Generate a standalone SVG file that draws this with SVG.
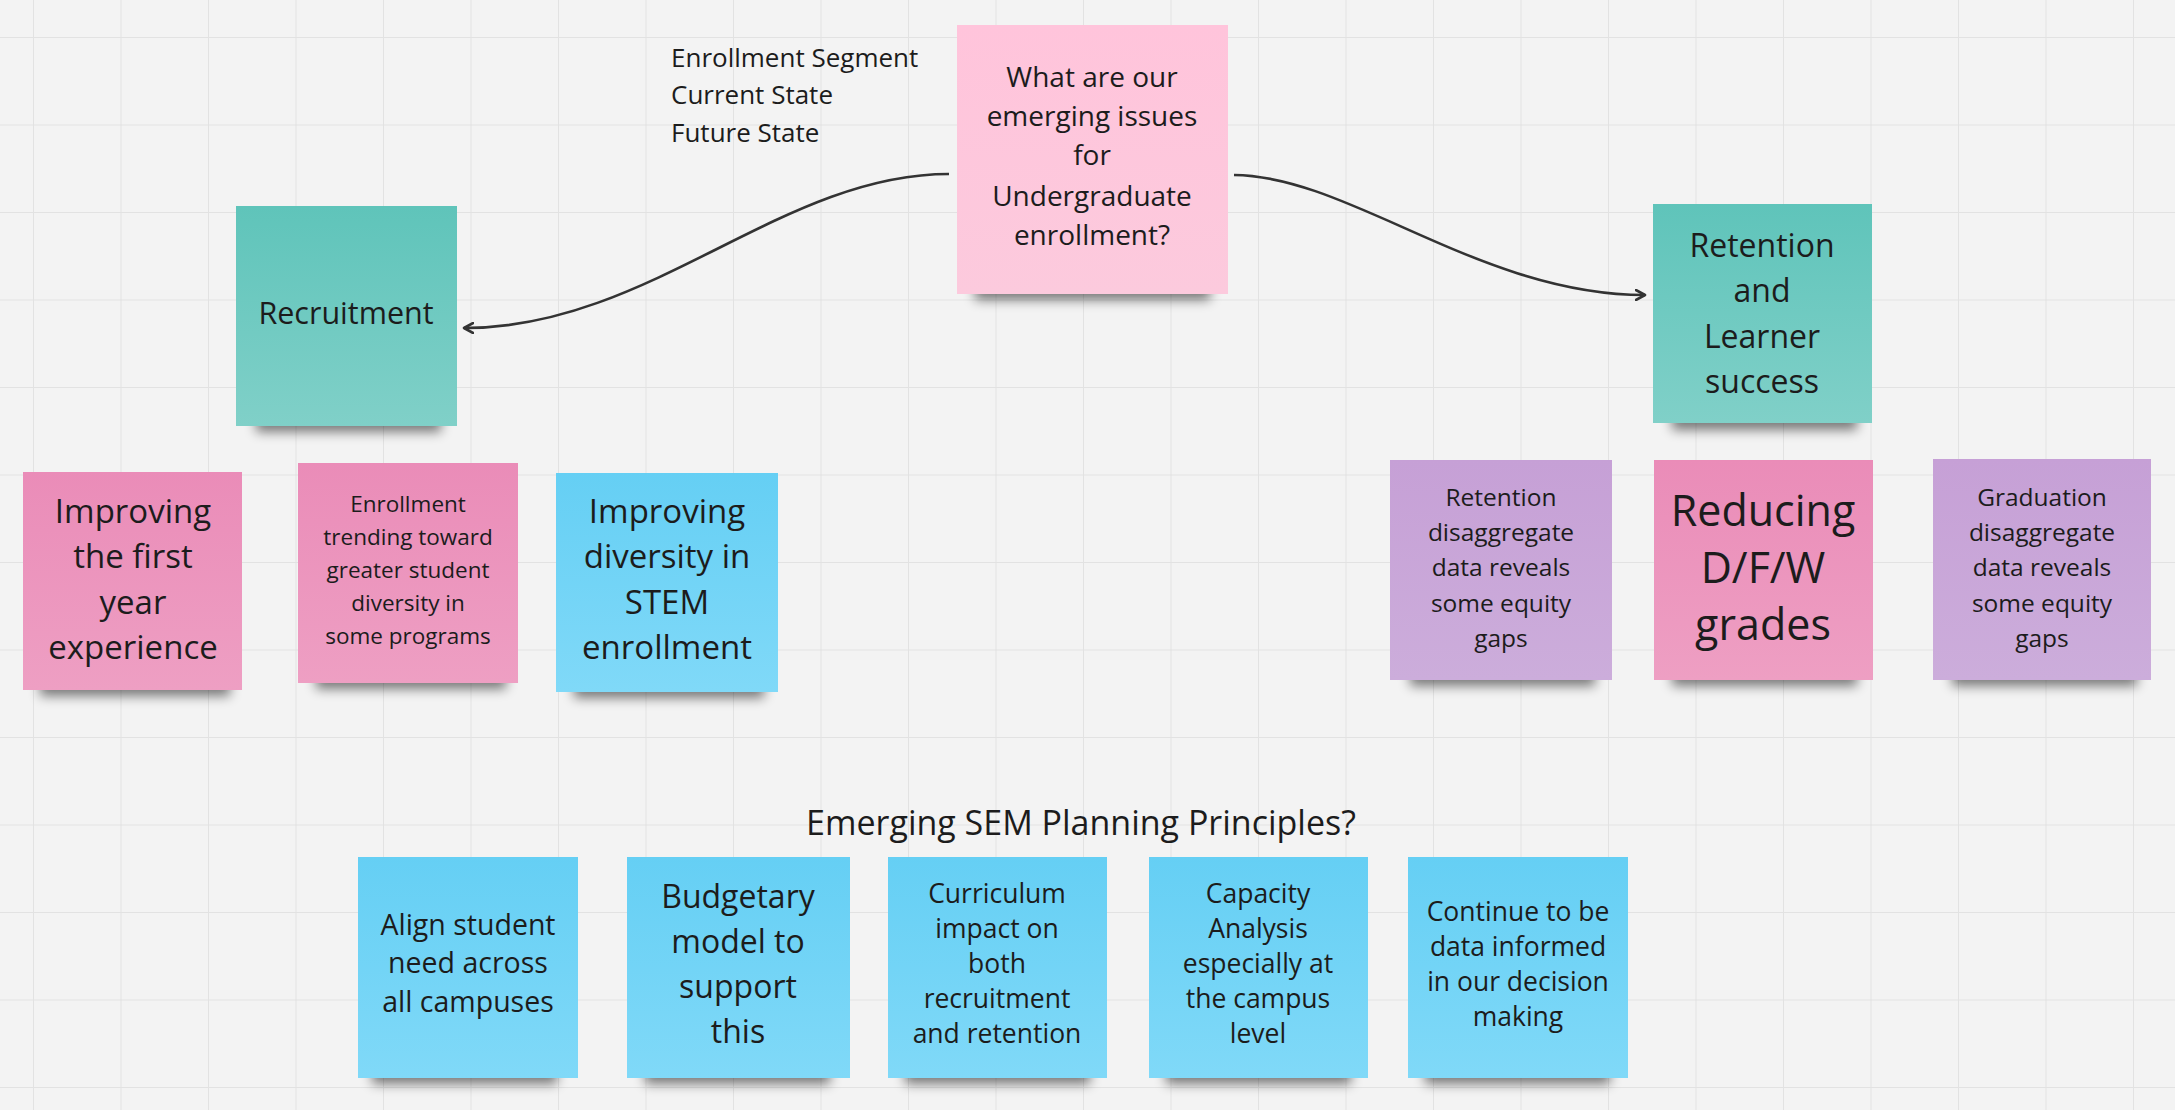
<svg xmlns="http://www.w3.org/2000/svg" width="2175" height="1110" viewBox="0 0 2175 1110">
<defs>
<pattern id="grid" patternUnits="userSpaceOnUse" x="33" y="37" width="87.5" height="87.5">
<path d="M0 0 H87.5 M0 0 V87.5" fill="none" stroke="#e2e2e2" stroke-width="2"/>
</pattern>
<filter id="blur" x="-20%" y="-100%" width="140%" height="300%"><feGaussianBlur stdDeviation="6"/></filter>
<linearGradient id="gTeal" x1="0" y1="0" x2="0" y2="1"><stop offset="0" stop-color="#5fc4ba"/><stop offset="1" stop-color="#80d0c8"/></linearGradient>
<linearGradient id="gLpink" x1="0" y1="0" x2="0" y2="1"><stop offset="0" stop-color="#ffc4db"/><stop offset="1" stop-color="#fccadd"/></linearGradient>
<linearGradient id="gPink" x1="0" y1="0" x2="0" y2="1"><stop offset="0" stop-color="#ea8cb8"/><stop offset="1" stop-color="#ee9fc3"/></linearGradient>
<linearGradient id="gPurple" x1="0" y1="0" x2="0" y2="1"><stop offset="0" stop-color="#c6a0d6"/><stop offset="1" stop-color="#ccaddb"/></linearGradient>
<linearGradient id="gBlue" x1="0" y1="0" x2="0" y2="1"><stop offset="0" stop-color="#65cff4"/><stop offset="1" stop-color="#80d9f8"/></linearGradient>
<marker id="arr" viewBox="0 0 12 12" refX="10" refY="6" markerWidth="12" markerHeight="12" markerUnits="userSpaceOnUse" orient="auto">
<path d="M1 1 L10 6 L1 11" fill="none" stroke="#333" stroke-width="2.6" stroke-linejoin="round" stroke-linecap="round"/>
</marker>
</defs>
<style>
text{font-family:"Open Sans","Noto Sans","Liberation Sans",sans-serif;fill:#1c1c1c;text-anchor:middle;dominant-baseline:central}
.plain{text-anchor:start}
.shadow{fill:#000;opacity:0.5;filter:url(#blur)}
.teal{fill:url(#gTeal)}
.lpink{fill:url(#gLpink)}
.pink{fill:url(#gPink)}
.purple{fill:url(#gPurple)}
.blue{fill:url(#gBlue)}
.conn{fill:none;stroke:#333;stroke-width:2.6;marker-end:url(#arr)}
</style>
<rect width="2175" height="1110" fill="#f3f3f3"/>
<rect width="2175" height="1110" fill="url(#grid)"/>

<g id="label-segment">
<text class="plain" x="671" y="57" font-size="26">Enrollment Segment</text>
<text class="plain" x="671" y="94" font-size="26">Current State</text>
<text class="plain" x="671" y="132" font-size="26">Future State</text>
</g>

<g id="question">
<rect class="shadow" x="975" y="280" width="235" height="20"/>
<rect class="lpink" x="957" y="25" width="271" height="269"/>
<text font-size="28"><tspan x="1092" y="76">What are our</tspan><tspan x="1092" y="115">emerging issues</tspan><tspan x="1092" y="154">for</tspan><tspan x="1092" y="195">Undergraduate</tspan><tspan x="1092" y="234">enrollment?</tspan></text>
</g>

<g id="recruitment">
<rect class="shadow" x="256" y="412" width="185" height="20"/>
<rect class="teal" x="236" y="206" width="221" height="220"/>
<text x="346" y="312" font-size="30.5">Recruitment</text>
</g>

<g id="retention">
<rect class="shadow" x="1672" y="410" width="185" height="20"/>
<rect class="teal" x="1653" y="204" width="219" height="219"/>
<text font-size="32"><tspan x="1762" y="244">Retention</tspan><tspan x="1762" y="289">and</tspan><tspan x="1762" y="335">Learner</tspan><tspan x="1762" y="380">success</tspan></text>
</g>

<g id="first-year">
<rect class="shadow" x="40" y="676" width="190" height="20"/>
<rect class="pink" x="23" y="472" width="219" height="218"/>
<text font-size="33"><tspan x="133" y="510">Improving</tspan><tspan x="133" y="555">the first</tspan><tspan x="133" y="601">year</tspan><tspan x="133" y="646">experience</tspan></text>
</g>

<g id="enrollment-trending">
<rect class="shadow" x="316" y="669" width="190" height="20"/>
<rect class="pink" x="298" y="463" width="220" height="220"/>
<text font-size="22.5"><tspan x="408" y="503">Enrollment</tspan><tspan x="408" y="536">trending toward</tspan><tspan x="408" y="569">greater student</tspan><tspan x="408" y="602">diversity in</tspan><tspan x="408" y="635">some programs</tspan></text>
</g>

<g id="stem">
<rect class="shadow" x="574" y="678" width="190" height="20"/>
<rect class="blue" x="556" y="473" width="222" height="219"/>
<text font-size="33"><tspan x="667" y="510">Improving</tspan><tspan x="667" y="555">diversity in</tspan><tspan x="667" y="601">STEM</tspan><tspan x="667" y="646">enrollment</tspan></text>
</g>

<g id="retention-gaps">
<rect class="shadow" x="1410" y="666" width="185" height="20"/>
<rect class="purple" x="1390" y="460" width="222" height="220"/>
<text font-size="24.5"><tspan x="1501" y="496">Retention</tspan><tspan x="1501" y="531">disaggregate</tspan><tspan x="1501" y="566">data reveals</tspan><tspan x="1501" y="602">some equity</tspan><tspan x="1501" y="637">gaps</tspan></text>
</g>

<g id="dfw">
<rect class="shadow" x="1672" y="666" width="185" height="20"/>
<rect class="pink" x="1654" y="460" width="219" height="220"/>
<text font-size="43"><tspan x="1763" y="509">Reducing</tspan><tspan x="1763" y="566">D/F/W</tspan><tspan x="1763" y="623">grades</tspan></text>
</g>

<g id="graduation-gaps">
<rect class="shadow" x="1952" y="666" width="185" height="20"/>
<rect class="purple" x="1933" y="459" width="218" height="221"/>
<text font-size="24.5"><tspan x="2042" y="496">Graduation</tspan><tspan x="2042" y="531">disaggregate</tspan><tspan x="2042" y="566">data reveals</tspan><tspan x="2042" y="602">some equity</tspan><tspan x="2042" y="637">gaps</tspan></text>
</g>

<g id="principles-title">
<text x="1081" y="822" font-size="34">Emerging SEM Planning Principles?</text>
</g>

<g id="align">
<rect class="shadow" x="372" y="1064" width="185" height="20"/>
<rect class="blue" x="358" y="857" width="220" height="221"/>
<text font-size="28.5"><tspan x="468" y="924">Align student</tspan><tspan x="468" y="962">need across</tspan><tspan x="468" y="1001">all campuses</tspan></text>
</g>

<g id="budgetary">
<rect class="shadow" x="645" y="1064" width="185" height="20"/>
<rect class="blue" x="627" y="857" width="223" height="221"/>
<text font-size="32"><tspan x="738" y="895">Budgetary</tspan><tspan x="738" y="940">model to</tspan><tspan x="738" y="985">support</tspan><tspan x="738" y="1030">this</tspan></text>
</g>

<g id="curriculum">
<rect class="shadow" x="905" y="1064" width="185" height="20"/>
<rect class="blue" x="888" y="857" width="219" height="221"/>
<text font-size="26.5"><tspan x="997" y="893">Curriculum</tspan><tspan x="997" y="928">impact on</tspan><tspan x="997" y="963">both</tspan><tspan x="997" y="998">recruitment</tspan><tspan x="997" y="1033">and retention</tspan></text>
</g>

<g id="capacity">
<rect class="shadow" x="1166" y="1064" width="185" height="20"/>
<rect class="blue" x="1149" y="857" width="219" height="221"/>
<text font-size="26.5"><tspan x="1258" y="893">Capacity</tspan><tspan x="1258" y="928">Analysis</tspan><tspan x="1258" y="963">especially at</tspan><tspan x="1258" y="998">the campus</tspan><tspan x="1258" y="1033">level</tspan></text>
</g>

<g id="data-informed">
<rect class="shadow" x="1425" y="1064" width="185" height="20"/>
<rect class="blue" x="1408" y="857" width="220" height="221"/>
<text font-size="26.5"><tspan x="1518" y="911">Continue to be</tspan><tspan x="1518" y="946">data informed</tspan><tspan x="1518" y="981">in our decision</tspan><tspan x="1518" y="1016">making</tspan></text>
</g>

<g id="connectors">
<path class="conn" d="M949,174 C780,174 650,328 464,328"/>
<path class="conn" d="M1234,175 C1350,176 1480,295 1645,295"/>
</g>
</svg>
